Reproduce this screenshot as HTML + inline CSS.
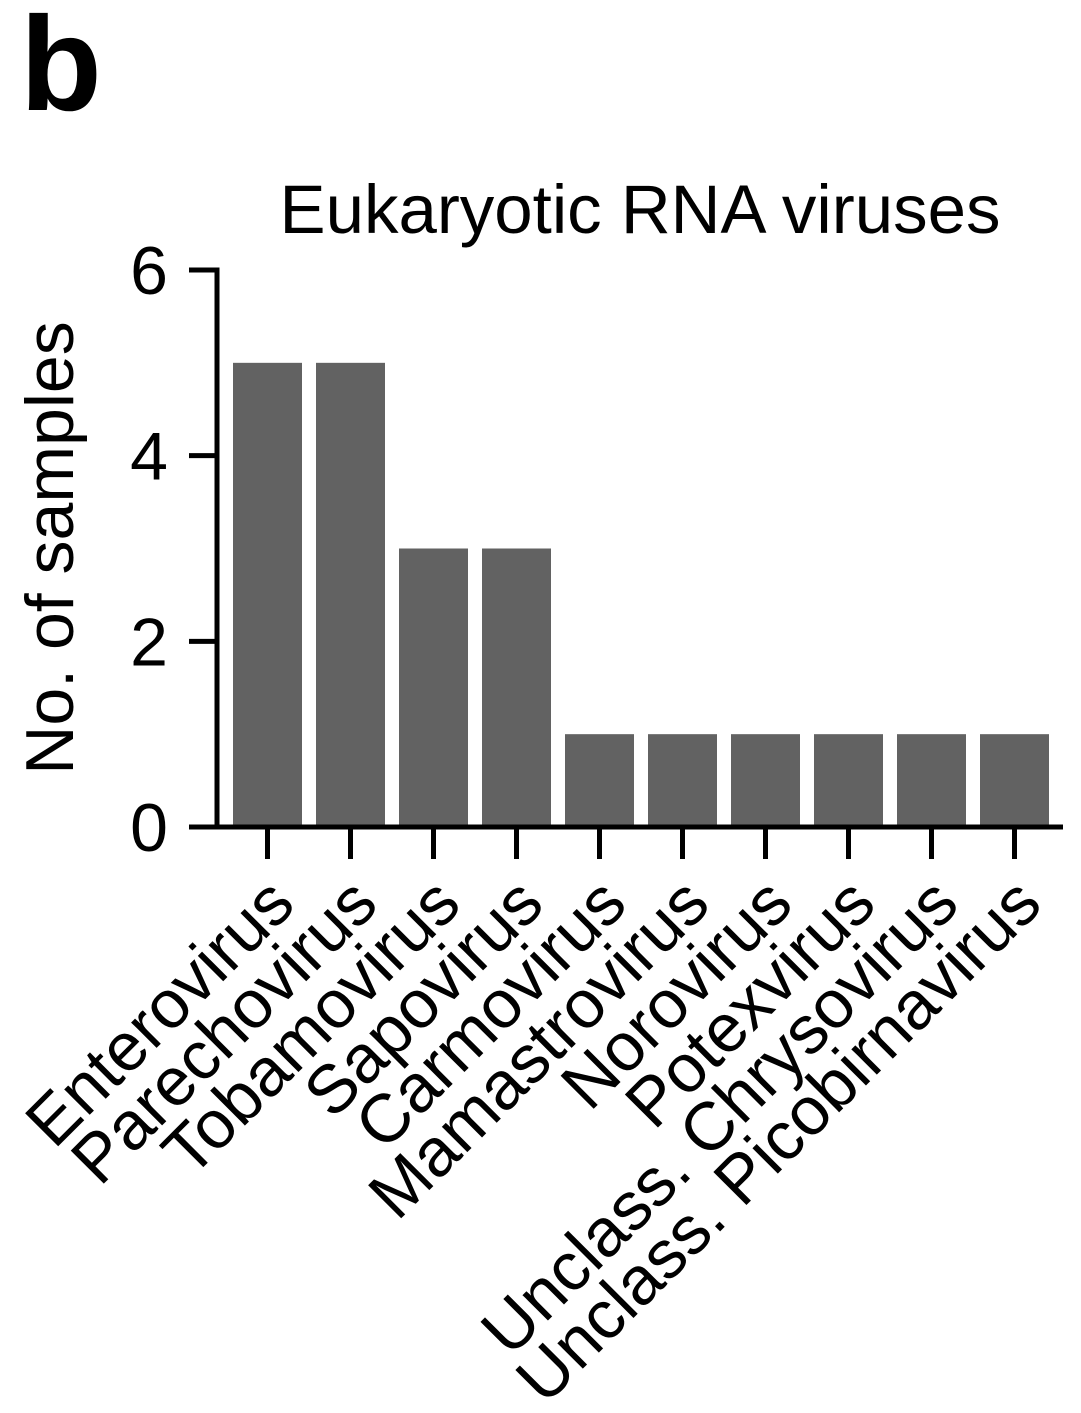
<!DOCTYPE html>
<html><head><meta charset="utf-8">
<style>html,body{margin:0;padding:0;background:#fff}svg{display:block}text{font-family:"Liberation Sans",Arial,sans-serif;fill:#000}</style>
</head><body>
<svg id="chart" width="1081" height="1413" viewBox="0 0 1081 1413" xmlns="http://www.w3.org/2000/svg">
<text x="20" y="110" font-size="134" font-weight="bold">b</text>
<text x="640" y="233" font-size="69" text-anchor="middle">Eukaryotic RNA viruses</text>
<text transform="translate(73,548) rotate(-90)" font-size="68" text-anchor="middle">No. of samples</text>
<g id="bars"></g><g id="axes"></g>
</svg>
<script>
const categories=["Enterovirus","Parechovirus","Tobamovirus","Sapovirus","Carmovirus","Mamastrovirus","Norovirus","Potexvirus","Unclass. Chrysovirus","Unclass. Picobirnavirus"];
const values=[5,5,3,3,1,1,1,1,1,1];
const yTicks=[0,2,4,6];
const NS="http://www.w3.org/2000/svg";
const svg=document.getElementById('chart');
const y0=827,yTop=270,yMax=6;
function yS(v){return y0-(y0-yTop)*v/yMax;}
const x0=226,step=83,bw=69;
function xC(i){return x0+step*i+step/2;}
function mk(t,a,p){const e=document.createElementNS(NS,t);for(const k in a)e.setAttribute(k,a[k]);p.appendChild(e);return e;}
const gb=document.getElementById('bars'),ga=document.getElementById('axes');
values.forEach((v,i)=>{
 const r=mk('rect',{x:xC(i)-bw/2,y:yS(v),width:bw,height:y0-yS(v),fill:'#626262'},gb);
 
 
 const t=mk('line',{x1:xC(i),x2:xC(i),y1:y0,y2:y0+32,stroke:'#000','stroke-width':5},ga);
 
 
 const lb=mk('text',{transform:`translate(${xC(i)+30},${y0+80}) rotate(-45)`,'font-size':68,'text-anchor':'end'},ga);
 lb.textContent=categories[i];
 
 
});
yTicks.forEach(v=>{
 const t=mk('line',{x1:189,x2:217,y1:yS(v),y2:yS(v),stroke:'#000','stroke-width':5},ga);
 
 
 const l=mk('text',{x:168,y:yS(v)+24,'font-size':68,'text-anchor':'end'},ga);
 l.textContent=v;
 
 
});
const ya=mk('line',{x1:217,x2:217,y1:yTop-2.5,y2:y0+2.5,stroke:'#000','stroke-width':5},ga);


const xa=mk('line',{x1:189,x2:1063,y1:y0,y2:y0,stroke:'#000','stroke-width':5},ga);


</script>
</body></html>
